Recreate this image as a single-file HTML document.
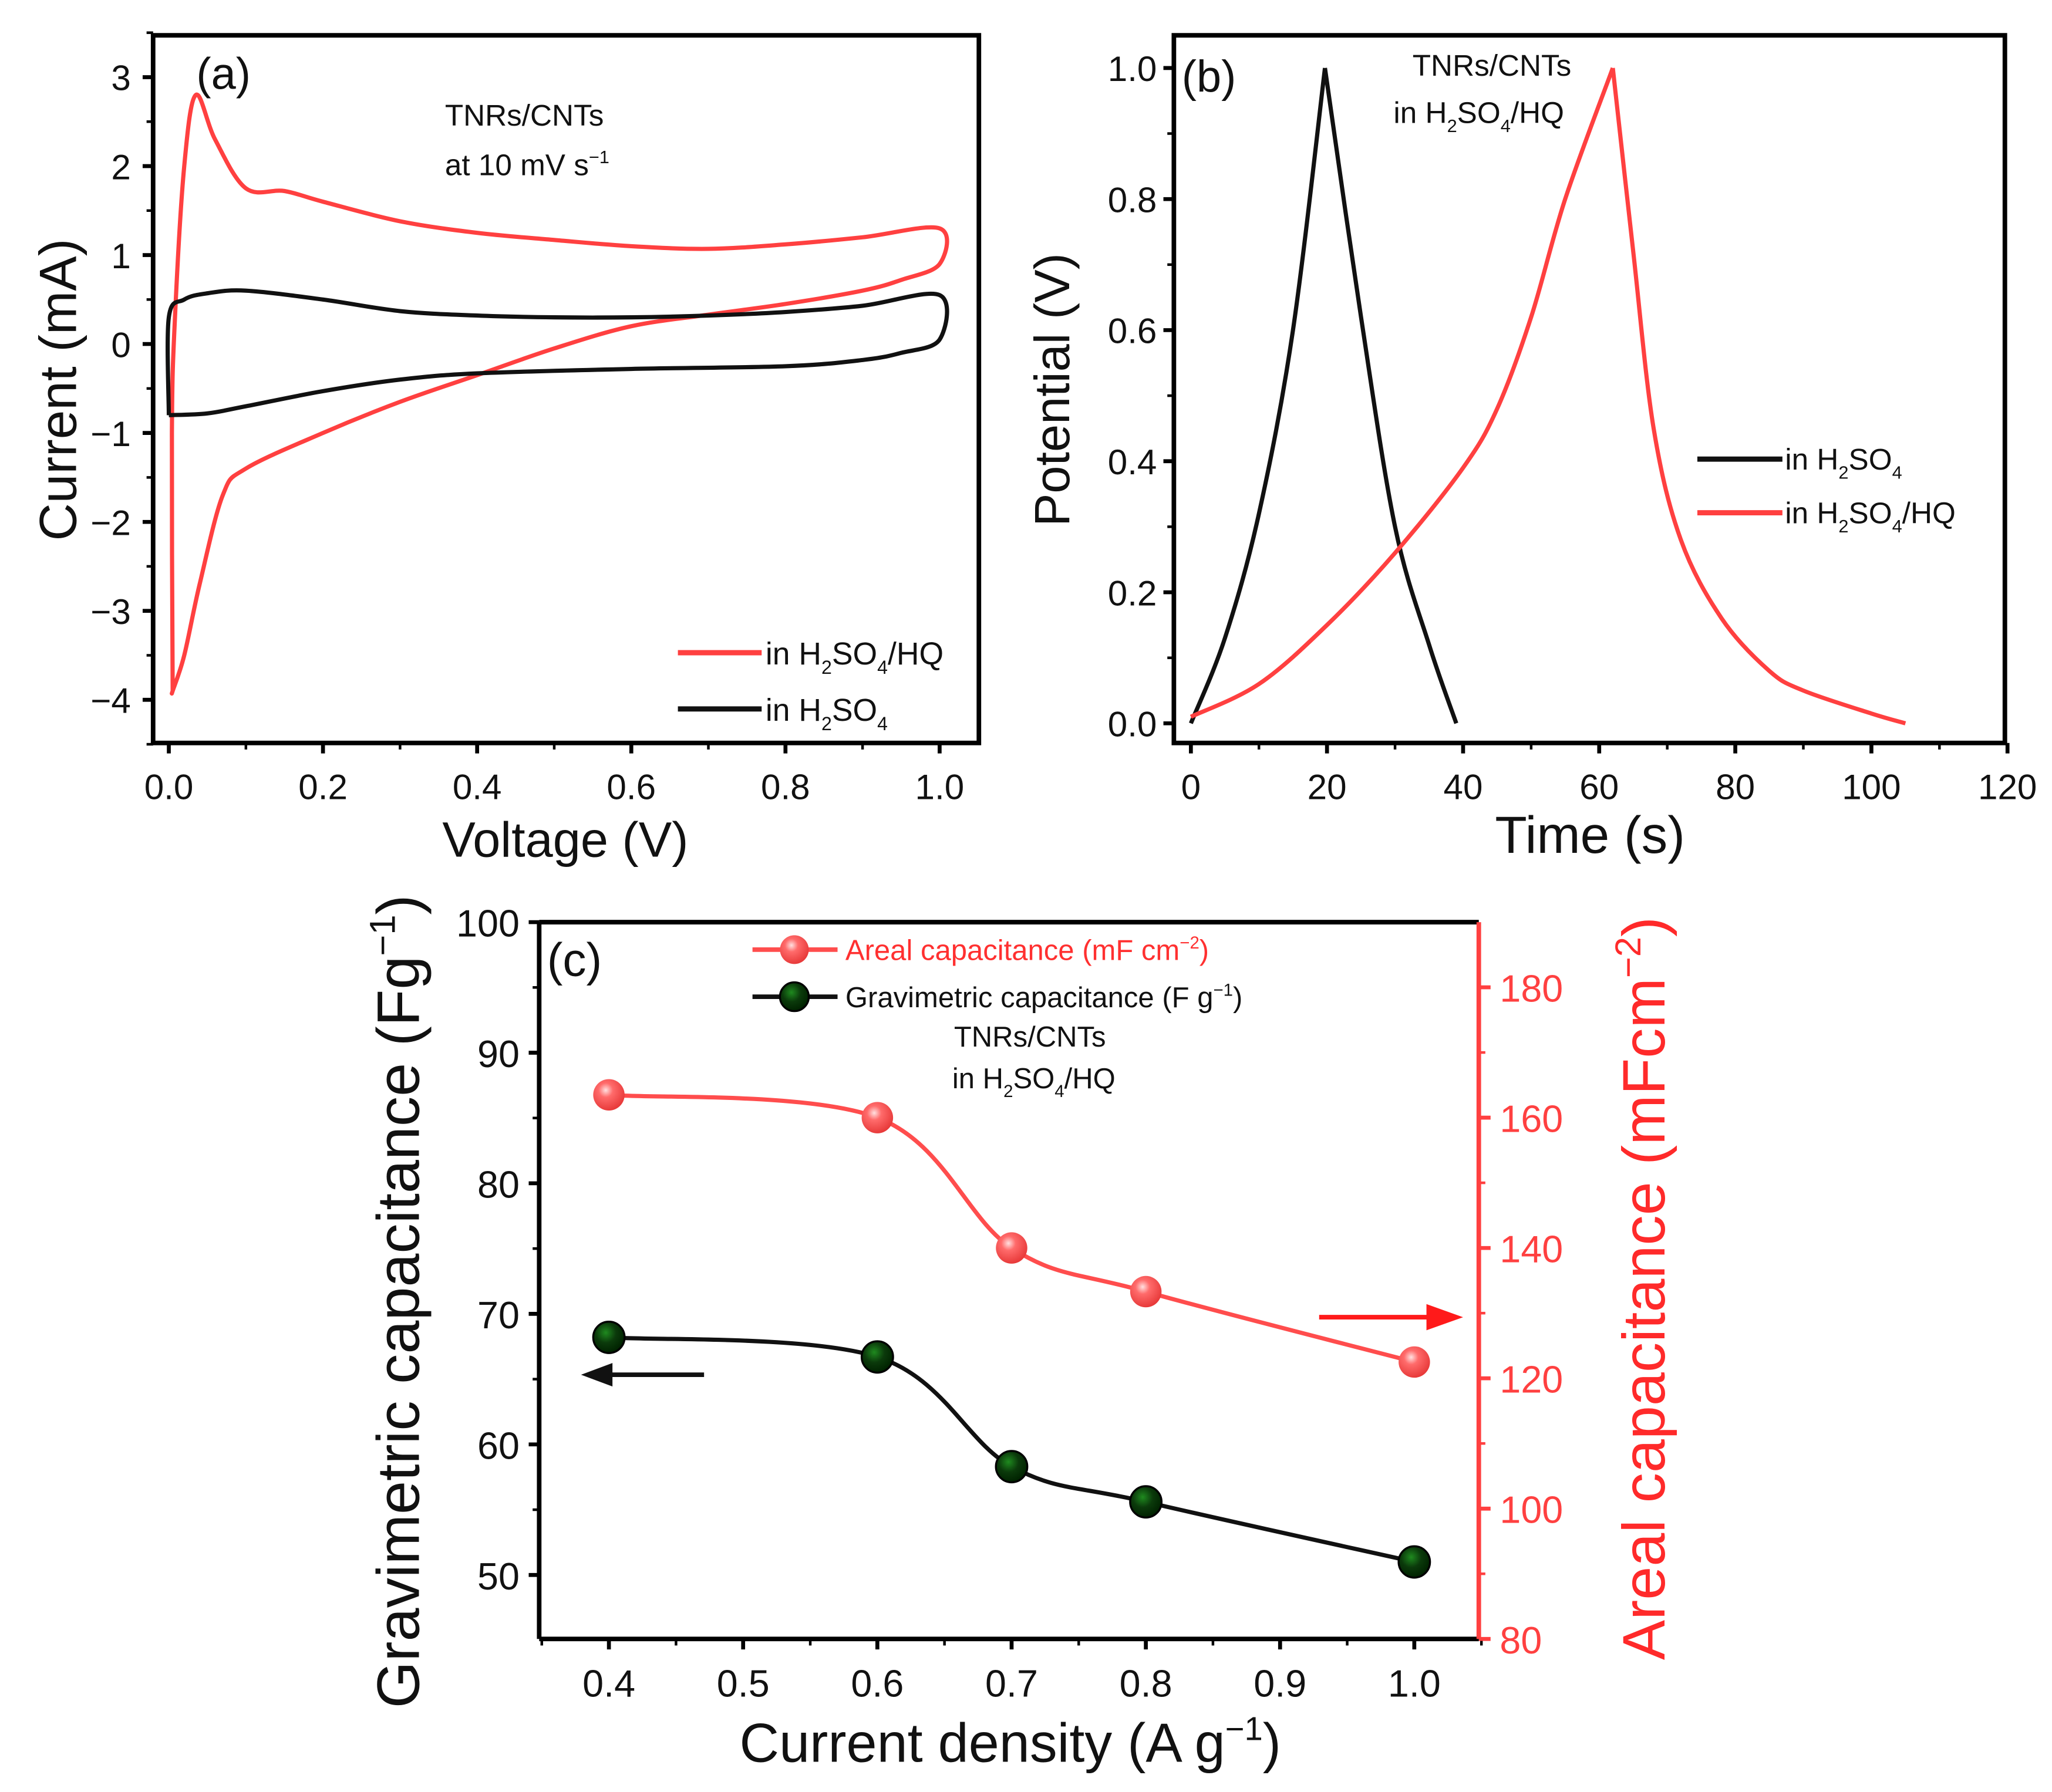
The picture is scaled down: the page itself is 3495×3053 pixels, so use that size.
<!DOCTYPE html>
<html><head><meta charset="utf-8"><style>
html,body{margin:0;padding:0;background:#fff;}
svg{display:block;font-family:"Liberation Sans",Arial,sans-serif;}
</style></head><body>
<svg id="fig" width="3495" height="3053" viewBox="0 0 1568 1370" preserveAspectRatio="none" xmlns="http://www.w3.org/2000/svg"></svg>
<script>
// ---- Panel (a) CV data ----
const cvRedV = [0.005,0.004,0.008,0.02,0.035,0.06,0.1,0.15,0.2,0.3,0.4,0.5,0.6,0.7,0.8,0.9,1.0,1.0,0.95,0.9,0.8,0.7,0.6,0.5,0.4,0.3,0.2,0.1,0.07,0.04,0.02,0.005,0.005];
const cvRedI = [-3.9,-1.0,0.3,2.0,2.8,2.3,1.75,1.72,1.6,1.38,1.25,1.17,1.1,1.07,1.12,1.2,1.3,0.9,0.72,0.6,0.45,0.33,0.2,-0.05,-0.35,-0.65,-1.0,-1.4,-1.7,-2.7,-3.5,-3.9,-3.9];
const cvBlkV = [0.0,0.0,0.02,0.05,0.1,0.2,0.3,0.4,0.5,0.6,0.7,0.8,0.9,1.0,1.0,0.95,0.9,0.8,0.6,0.4,0.3,0.2,0.1,0.05,0.0];
const cvBlkI = [-0.8,0.3,0.5,0.57,0.6,0.5,0.37,0.32,0.3,0.3,0.32,0.36,0.43,0.55,0.05,-0.1,-0.18,-0.25,-0.28,-0.33,-0.4,-0.53,-0.7,-0.78,-0.8];
const cvXTicks = [0.0,0.2,0.4,0.6,0.8,1.0];
const cvYTicks = [3,2,1,0,-1,-2,-3,-4];
// ---- Panel (b) GCD data (charge / discharge) ----
const gcdBlkChargeT = [0,5,10,15,19.7];
const gcdBlkChargeV = [0,0.13,0.32,0.6,1.0];
const gcdBlkDisT = [19.7,25,30,35,39];
const gcdBlkDisV = [1.0,0.62,0.3,0.12,0];
const gcdRedChargeT = [0,10,20,30,40,45,50,55,62];
const gcdRedChargeV = [0.01,0.06,0.15,0.26,0.39,0.48,0.62,0.8,1.0];
const gcdRedDisT = [62,65,68,72,78,85,90,100,105];
const gcdRedDisV = [1.0,0.72,0.45,0.28,0.16,0.08,0.05,0.015,0];
const gcdXTicks = [0,20,40,60,80,100,120];
const gcdYTicks = [0.0,0.2,0.4,0.6,0.8,1.0];
// ---- Panel (c) capacitance data ----
const cdX = [0.4,0.6,0.7,0.8,1.0];
const gravVals = [68.2,66.7,58.3,55.6,51.0];
const arealVals = [163.5,160,140,133.3,122.5];
const cdXTicks = [0.4,0.5,0.6,0.7,0.8,0.9,1.0];
const gravTicks = [50,60,70,80,90,100];
const arealTicks = [80,100,120,140,160,180];

const NS="http://www.w3.org/2000/svg";
const svg=document.getElementById('fig');
function mk(tag,attrs,parent){const e=document.createElementNS(NS,tag);for(const k in attrs)e.setAttribute(k,attrs[k]);(parent||svg).appendChild(e);return e;}
function lin(d0,d1,r0,r1){return v=>r0+(v-d0)*(r1-r0)/(d1-d0);}
function txt(x,y,s,size,fill,anchor,parent){const t=mk('text',{x:x,y:y,'font-size':size,fill:fill||'#111','text-anchor':anchor||'middle'},parent);t.textContent=s;return t;}
function smooth(pts){let d='M'+pts[0][0]+','+pts[0][1];for(let i=0;i<pts.length-1;i++){const p0=pts[i-1]||pts[i],p1=pts[i],p2=pts[i+1],p3=pts[i+2]||p2;const c1=[p1[0]+(p2[0]-p0[0])/6,p1[1]+(p2[1]-p0[1])/6],c2=[p2[0]-(p3[0]-p1[0])/6,p2[1]-(p3[1]-p1[1])/6];d+=' C'+c1+' '+c2+' '+p2;}return d;}
function chem(t,parts,sz){parts.forEach(p=>{const s=document.createElementNS(NS,'tspan');s.textContent=p[0];if(p[1]==='sub'){s.setAttribute('dy',sz*0.3);s.setAttribute('font-size',sz*0.6);}else if(p[1]==='sup'){s.setAttribute('dy',-sz*0.4);s.setAttribute('font-size',sz*0.6);}else if(p[1]==='back'){s.setAttribute('dy',-sz*0.3);}else if(p[1]==='backsup'){s.setAttribute('dy',sz*0.4);}t.appendChild(s);});}

// ================= Panel (a) =================
const ga=mk('g',{});


const ax=lin(0,1,129,718), ay=lin(0,-4,263,535);
cvXTicks.forEach(v=>{const l=mk('line',{x1:ax(v),x2:ax(v),y1:568,y2:576,stroke:'#000','stroke-width':3},ga);const t=txt(ax(v),611,v.toFixed(1),27,'#111','middle',ga);});
for(let v=0.1;v<1.05;v+=0.2){mk('line',{x1:ax(v),x2:ax(v),y1:568,y2:573,stroke:'#000','stroke-width':2},ga);}
cvYTicks.forEach(v=>{const l=mk('line',{x1:109,x2:117,y1:ay(v),y2:ay(v),stroke:'#000','stroke-width':3},ga);const t=txt(100,ay(v)+10,v<0?'\u2212'+(-v):String(v),27,'#111','end',ga);});
for(let v=-4.5;v<3.6;v+=1){mk('line',{x1:112,x2:117,y1:ay(v),y2:ay(v),stroke:'#000','stroke-width':2},ga);}
const cvRed=mk('path',{d:smooth(cvRedV.map((v,i)=>[ax(v),ay(cvRedI[i])])),fill:'none',stroke:'#ff4040','stroke-width':3.2,'stroke-linejoin':'round'},ga);


const cvBlk=mk('path',{d:smooth(cvBlkV.map((v,i)=>[ax(v),ay(cvBlkI[i])])),fill:'none',stroke:'#111','stroke-width':3.2,'stroke-linejoin':'round'},ga);


const fa=mk('rect',{x:117,y:27,width:631,height:541,fill:'none',stroke:'#000','stroke-width':3.5},ga);


let t;
t=txt(150,68,'(a)',34,'#111','start',ga);
t=txt(340,96,'TNRs/CNTs',23,'#111','start',ga);
t=txt(340,134,'',23,'#111','start',ga);chem(t,[['at 10 mV s'],['\u22121','sup']],23);
t=txt(432,655,'Voltage (V)',38,'#111','middle',ga);
t=txt(0,0,'Current (mA)',40,'#111','middle',ga);t.setAttribute('transform','translate(58,298) rotate(-90)');
let l=mk('line',{x1:518,x2:582,y1:499,y2:499,stroke:'#ff4040','stroke-width':4},ga);
t=txt(585,508,'',24,'#111','start',ga);chem(t,[['in H'],['2','sub'],['SO','back'],['4','sub'],['/HQ','back']],24);
l=mk('line',{x1:518,x2:582,y1:542,y2:542,stroke:'#111','stroke-width':4},ga);
t=txt(585,551,'',24,'#111','start',ga);chem(t,[['in H'],['2','sub'],['SO','back'],['4','sub']],24);

// ================= Panel (b) =================
const gb=mk('g',{});


const bx=lin(0,120,910,1534), by=lin(0,1,553,52);
gcdXTicks.forEach(v=>{const l=mk('line',{x1:bx(v),x2:bx(v),y1:568,y2:576,stroke:'#000','stroke-width':3},gb);const t=txt(bx(v),611,String(v),27,'#111','middle',gb);});
for(let v=10;v<120;v+=20){mk('line',{x1:bx(v),x2:bx(v),y1:568,y2:573,stroke:'#000','stroke-width':2},gb);}
gcdYTicks.forEach(v=>{const l=mk('line',{x1:889,x2:897,y1:by(v),y2:by(v),stroke:'#000','stroke-width':3},gb);const t=txt(884,by(v)+10,v.toFixed(1),27,'#111','end',gb);});
for(let v=0.1;v<1.05;v+=0.2){mk('line',{x1:892,x2:897,y1:by(v),y2:by(v),stroke:'#000','stroke-width':2},gb);}
function seg(T,V){return smooth(T.map((v,i)=>[bx(v),by(V[i])]));}
const gBlk=mk('path',{d:seg(gcdBlkChargeT,gcdBlkChargeV)+' '+seg(gcdBlkDisT,gcdBlkDisV),fill:'none',stroke:'#111','stroke-width':3.2,'stroke-linejoin':'round'},gb);


const gRed=mk('path',{d:seg(gcdRedChargeT,gcdRedChargeV)+' '+seg(gcdRedDisT,gcdRedDisV),fill:'none',stroke:'#ff4040','stroke-width':3.2,'stroke-linejoin':'round'},gb);


const fb=mk('rect',{x:897,y:27,width:635,height:541,fill:'none',stroke:'#000','stroke-width':3.5},gb);


t=txt(903,70,'(b)',34,'#111','start',gb);
t=txt(1140,58,'TNRs/CNTs',23,'#111','middle',gb);
t=txt(1130,94,'',23,'#111','middle',gb);chem(t,[['in H'],['2','sub'],['SO','back'],['4','sub'],['/HQ','back']],23);
t=txt(1215,652,'Time (s)',40,'#111','middle',gb);
t=txt(0,0,'Potential (V)',38,'#111','middle',gb);t.setAttribute('transform','translate(817,298) rotate(-90)');
l=mk('line',{x1:1297,x2:1362,y1:351,y2:351,stroke:'#111','stroke-width':4},gb);
t=txt(1364,359,'',23,'#111','start',gb);chem(t,[['in H'],['2','sub'],['SO','back'],['4','sub']],23);
l=mk('line',{x1:1297,x2:1362,y1:392,y2:392,stroke:'#ff4040','stroke-width':4},gb);
t=txt(1364,400,'',23,'#111','start',gb);chem(t,[['in H'],['2','sub'],['SO','back'],['4','sub'],['/HQ','back']],23);

// ================= Panel (c) =================
const gc=mk('g',{});


const defs=mk('defs',{});
const rg=mk('radialGradient',{id:'gRed',cx:'0.4',cy:'0.35',r:'0.65'},defs);
mk('stop',{offset:'0','stop-color':'#ffe0e0'},rg);mk('stop',{offset:'0.35','stop-color':'#ff6b6b'},rg);mk('stop',{offset:'1','stop-color':'#e83a3a'},rg);
const kg=mk('radialGradient',{id:'gBlk',cx:'0.4',cy:'0.35',r:'0.65'},defs);
mk('stop',{offset:'0','stop-color':'#1f8a1f'},kg);mk('stop',{offset:'0.5','stop-color':'#0b3a0b'},kg);mk('stop',{offset:'1','stop-color':'#020'},kg);
const cx=lin(0.35,1.05,414,1132), cyL=lin(45,100,1254,705), cyR=lin(80,190,1253,705);
cdXTicks.forEach(v=>{const l=mk('line',{x1:cx(v),x2:cx(v),y1:1253,y2:1261,stroke:'#000','stroke-width':3},gc);const t=txt(cx(v),1297,v.toFixed(1),29,'#111','middle',gc);});
for(let v=0.35;v<1.06;v+=0.1){mk('line',{x1:cx(v),x2:cx(v),y1:1253,y2:1258,stroke:'#000','stroke-width':2},gc);}
gravTicks.forEach(v=>{const l=mk('line',{x1:404,x2:412,y1:cyL(v),y2:cyL(v),stroke:'#000','stroke-width':3},gc);const t=txt(397,cyL(v)+11,String(v),29,'#111','end',gc);});
for(let v=55;v<100;v+=10){mk('line',{x1:407,x2:412,y1:cyL(v),y2:cyL(v),stroke:'#000','stroke-width':2},gc);}
arealTicks.forEach(v=>{const l=mk('line',{x1:1130,x2:1139,y1:cyR(v),y2:cyR(v),stroke:'#ff4040','stroke-width':3},gc);const t=txt(1146,cyR(v)+11,String(v),29,'#ff4040','start',gc);});
for(let v=90;v<190;v+=20){mk('line',{x1:1130,x2:1135,y1:cyR(v),y2:cyR(v),stroke:'#ff4040','stroke-width':2},gc);}
const aLine=mk('path',{d:smooth(cdX.map((v,i)=>[cx(v),cyR(arealVals[i])])),fill:'none',stroke:'#ff4d4d','stroke-width':3.2},gc);


const gLine=mk('path',{d:smooth(cdX.map((v,i)=>[cx(v),cyL(gravVals[i])])),fill:'none',stroke:'#111','stroke-width':3.2},gc);


cdX.forEach((v,i)=>{const c=mk('circle',{cx:cx(v),cy:cyR(arealVals[i]),r:12,fill:'url(#gRed)'},gc);
const k=mk('circle',{cx:cx(v),cy:cyL(gravVals[i]),r:12,fill:'url(#gBlk)',stroke:'#000','stroke-width':1.5},gc);});
l=mk('line',{x1:412,x2:1130,y1:705,y2:705,stroke:'#000','stroke-width':3.5},gc);
l=mk('line',{x1:412,x2:1130,y1:1253,y2:1253,stroke:'#000','stroke-width':3.5},gc);
l=mk('line',{x1:412,x2:412,y1:705,y2:1253,stroke:'#000','stroke-width':3.5},gc);
l=mk('line',{x1:1130,x2:1130,y1:705,y2:1253,stroke:'#ff4040','stroke-width':3.5},gc);
l=mk('line',{x1:538,x2:460,y1:1051,y2:1051,stroke:'#111','stroke-width':3.5},gc);
mk('polygon',{points:'444,1051 468,1042 468,1060',fill:'#111'},gc);
l=mk('line',{x1:1008,x2:1095,y1:1007,y2:1007,stroke:'#ff1a1a','stroke-width':3.5},gc);
mk('polygon',{points:'1118,1007 1090,997 1090,1017',fill:'#ff1a1a'},gc);
t=txt(418,746,'(c)',36,'#111','start',gc);
l=mk('line',{x1:575,x2:640,y1:726,y2:726,stroke:'#ff4d4d','stroke-width':3.5},gc);
mk('circle',{cx:607,cy:726,r:11,fill:'url(#gRed)'},gc);
t=txt(646,734,'',22,'#ff3030','start',gc);chem(t,[['Areal capacitance (mF cm'],['\u22122','sup'],[')','backsup']],22);
l=mk('line',{x1:575,x2:640,y1:762,y2:762,stroke:'#111','stroke-width':3.5},gc);
mk('circle',{cx:607,cy:762,r:11,fill:'url(#gBlk)',stroke:'#000','stroke-width':1.5},gc);
t=txt(646,770,'',22,'#111','start',gc);chem(t,[['Gravimetric capacitance (F g'],['\u22121','sup'],[')','backsup']],22);
t=txt(787,800,'TNRs/CNTs',22,'#111','middle',gc);
t=txt(790,832,'',22,'#111','middle',gc);chem(t,[['in H'],['2','sub'],['SO','back'],['4','sub'],['/HQ','back']],22);
t=txt(772,1347,'',42,'#111','middle',gc);chem(t,[['Current density (A g'],['\u22121','sup'],[')','backsup']],42);
t=txt(0,0,'',46,'#111','middle',gc);chem(t,[['Gravimetric capacitance (Fg'],['\u22121','sup'],[')','backsup']],46);t.setAttribute('transform','translate(320,995) rotate(-90)');
t=txt(0,0,'',46,'#ff2a2a','middle',gc);chem(t,[['Areal capacitance (mFcm'],['\u22122','sup'],[')','backsup']],46);t.setAttribute('transform','translate(1272,985) rotate(-90)');
</script>
</body></html>
